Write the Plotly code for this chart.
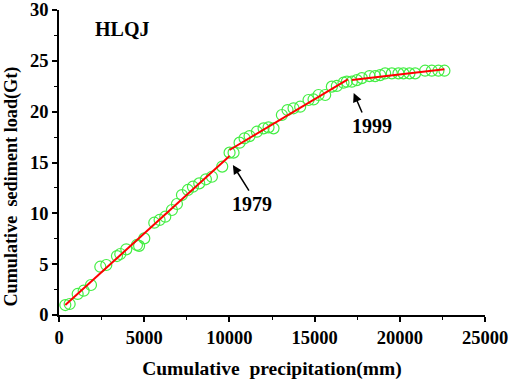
import plotly.graph_objects as go

# Observed points (cumulative precipitation mm, cumulative sediment load Gt)
precip = [371, 625, 1095, 1447, 1877, 2424, 2776, 3402, 3597, 3949, 4575, 4700, 5005,
          5591, 5904, 6236, 6627, 6920, 7214, 7565, 7859, 8230, 8621, 8973, 9579,
          10010, 10244, 10596, 10889, 11183, 11613, 12004, 12297, 12590, 13079, 13411,
          13763, 14154, 14643, 14936, 15230, 15621, 16012, 16305, 16696, 16891, 17185,
          17478, 17772, 18221, 18553, 18846, 19140, 19531, 19922, 20215, 20567, 20900,
          21485, 21876, 22267, 22619]
sediment = [0.98, 1.08, 2.07, 2.39, 2.95, 4.75, 4.92, 5.80, 6.0, 6.46, 6.89, 6.8, 7.54,
            9.08, 9.35, 9.67, 10.33, 10.92, 11.8, 12.3, 12.62, 12.95, 13.35, 13.6, 14.6,
            15.97, 15.97, 16.95, 17.38, 17.6, 18.03, 18.36, 18.46, 18.36, 19.67, 20.16,
            20.33, 20.49, 21.15, 21.2, 21.64, 21.64, 22.46, 22.53, 22.85, 22.95, 22.95,
            23.1, 23.3, 23.5, 23.5, 23.6, 23.77, 23.77, 23.77, 23.77, 23.77, 23.77,
            24.03, 24.03, 24.03, 24.03]

# Fitted segments (endpoints)
fit1_x = [371, 10010]
fit1_y = [0.98, 15.64]
fit2_x = [10010, 16950]
fit2_y = [16.23, 23.18]
fit3_x = [17185, 22620]
fit3_y = [23.12, 24.17]

x_ticks = [0, 5000, 10000, 15000, 20000, 25000]
y_ticks = [0, 5, 10, 15, 20, 25, 30]

FONT = "Liberation Serif"

fig = go.Figure()
fig.add_trace(go.Scatter(x=precip, y=sediment, mode="markers",
                         marker=dict(symbol="circle-open", size=11, color="#44ee44",
                                     line=dict(width=1.2, color="#44ee44")),
                         showlegend=False, cliponaxis=False))
for fx, fy in [(fit1_x, fit1_y), (fit2_x, fit2_y), (fit3_x, fit3_y)]:
    fig.add_trace(go.Scatter(x=fx, y=fy, mode="lines",
                             line=dict(color="#ff0000", width=2), showlegend=False))

axis_common = dict(showline=True, linecolor="black", linewidth=1.5, ticks="outside",
                   ticklen=5, tickwidth=1.5, tickcolor="black", showgrid=False, zeroline=False,
                   mirror=False, automargin=False,
                   tickfont=dict(family=FONT, size=18.5, color="black", weight="bold"),
                   minor=dict(ticks="outside", ticklen=3, tickwidth=1.2, tickcolor="black"))

fig.update_xaxes(range=[0, 25000], tickvals=x_ticks, ticktext=[str(v) for v in x_ticks],
                 title=dict(text="Cumulative\u00a0\u00a0precipitation(mm)",
                            font=dict(family=FONT, size=19.5, color="black", weight="bold"),
                            standoff=14),
                 minor_dtick=2500, **axis_common)
fig.update_yaxes(range=[0, 30], tickvals=y_ticks, ticktext=[str(v) for v in y_ticks],
                 minor_dtick=2.5, **axis_common)

# y-axis title (placed as annotation to match reference offset)
fig.add_annotation(xref="paper", yref="paper", x=-0.111, y=0.42, xanchor="center",
                   yanchor="middle", text="Cumulative\u00a0\u00a0sediment load(Gt)",
                   textangle=-90, showarrow=False,
                   font=dict(family=FONT, size=18.2, color="black", weight="bold"))

ann_font = dict(family=FONT, size=20, color="black", weight="bold")
fig.add_annotation(x=3706, y=28.1, text="HLQJ", showarrow=False, font=ann_font)
fig.add_annotation(x=11317, y=10.9, text="1979", showarrow=False, font=ann_font)
fig.add_annotation(x=18355, y=18.58, text="1999", showarrow=False, font=ann_font)
fig.add_annotation(x=10205, y=14.75, text="", showarrow=True, arrowhead=2, arrowsize=1.2,
                   arrowwidth=1.5, arrowcolor="black", ax=17, ay=27)
fig.add_annotation(x=17295, y=21.83, text="", showarrow=True, arrowhead=2, arrowsize=1.2,
                   arrowwidth=1.5, arrowcolor="black", ax=9, ay=21)

fig.update_layout(width=512, height=380, margin=dict(l=59, r=27, t=10, b=65),
                  plot_bgcolor="white", paper_bgcolor="white")

fig.write_html("out.html", config={"displayModeBar": False},
               post_script="document.body.style.margin='0';")
